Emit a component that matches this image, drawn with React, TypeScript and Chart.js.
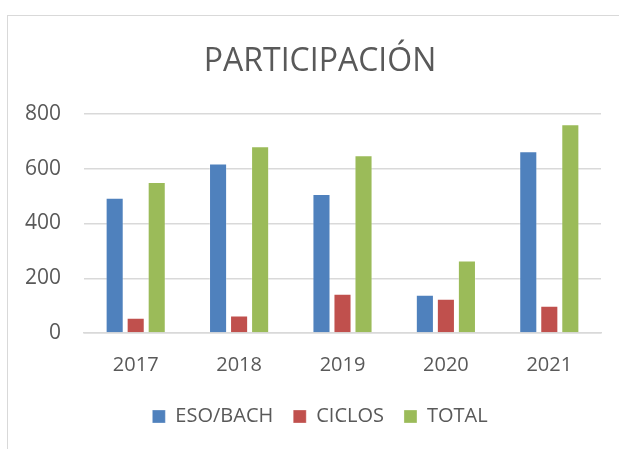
import React, { useEffect, useRef } from "react";
import { Chart, registerables } from "chart.js";

Chart.register(...registerables);

const categories = ["2017", "2018", "2019", "2020", "2021"];
const esoBach = [494, 619, 508, 140, 664];
const ciclos = [56, 64, 143, 125, 100];
const total = [552, 682, 649, 265, 763];
const yTicks = [0, 200, 400, 600, 800];

const FONT = "'Open Sans', sans-serif";
const TEXT = "#595959";
const GRID = "#d9d9d9";

export default function App() {
  const ref = useRef<HTMLCanvasElement | null>(null);

  useEffect(() => {
    if (!ref.current) return;
    const chart = new Chart(ref.current, {
      type: "bar",
      data: {
        labels: categories,
        datasets: [
          { label: "ESO/BACH", data: esoBach, backgroundColor: "#4f81bd", borderColor: "rgba(255,255,255,0.3)", borderWidth: 1 },
          { label: "CICLOS", data: ciclos, backgroundColor: "#c0504d", borderColor: "rgba(255,255,255,0.3)", borderWidth: 1 },
          { label: "TOTAL", data: total, backgroundColor: "#9bbb59", borderColor: "rgba(255,255,255,0.3)", borderWidth: 1 },
        ],
      },
      options: {
        animation: false,
        responsive: false,
        maintainAspectRatio: false,
        devicePixelRatio: 1,
        layout: { padding: { top: 0, left: 0, right: 0, bottom: 23.5 } },
        datasets: { bar: { categoryPercentage: 0.61, barPercentage: 0.86 } },
        plugins: {
          title: {
            display: true,
            text: "PARTICIPACIÓN",
            color: TEXT,
            font: { family: FONT, size: 32, weight: "normal", lineHeight: 1.2 },
            padding: { top: 42.8, bottom: 32.8 },
          },
          legend: {
            position: "bottom",
            labels: {
              color: TEXT,
              font: { family: FONT, size: 20 },
              boxWidth: 13,
              boxHeight: 13,
              padding: 20,
            },
          },
          tooltip: { enabled: false },
        },
        scales: {
          x: {
            grid: { display: false, drawTicks: false },
            border: { display: true, color: GRID, width: 1.5 },
            ticks: { color: TEXT, font: { family: FONT, size: 20 }, padding: 20 },
            afterFit: (s: any) => { s.height = 53.5; },
          },
          y: {
            min: 0,
            max: 800,
            afterBuildTicks: (s: any) => { s.ticks = yTicks.map((v) => ({ value: v })); },
            grid: { color: GRID, lineWidth: 1.5, drawTicks: false },
            border: { display: false },
            ticks: { color: TEXT, font: { family: FONT, size: 21 }, padding: 23 },
            afterFit: (s: any) => { s.width = 84; },
          },
          yRight: {
            position: "right",
            min: 0,
            max: 800,
            grid: { display: false, drawTicks: false },
            border: { display: false },
            ticks: { display: false },
            afterFit: (s: any) => { s.width = 39; },
          },
        },
      },
    });
    return () => chart.destroy();
  }, []);

  return (
    <div style={{ position: "fixed", left: 0, top: 0, width: 619, height: 449, overflow: "hidden", background: "#fff" }}>
      <div style={{ position: "absolute", left: 7, top: 15, width: 700, height: 500, borderLeft: `1.5px solid ${GRID}`, borderTop: `1.5px solid ${GRID}` }} />
      <canvas ref={ref} width={640} height={460} style={{ position: "absolute", left: 0, top: 0, width: 640, height: 460 }} />
    </div>
  );
}
